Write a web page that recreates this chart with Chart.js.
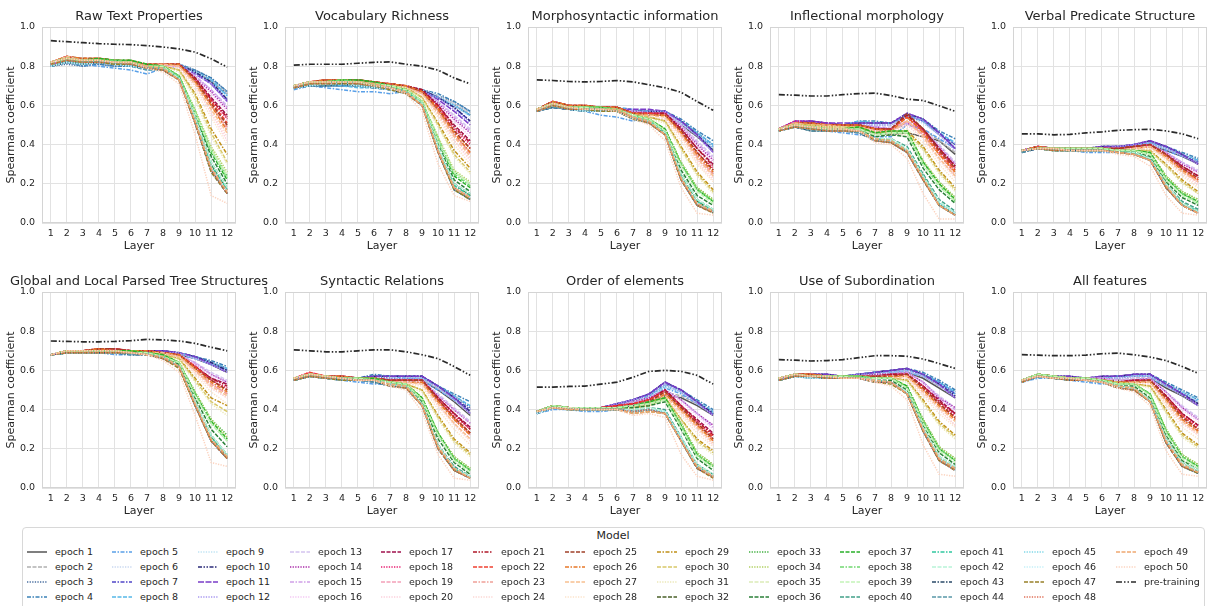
<!DOCTYPE html>
<html>
<head>
<meta charset="utf-8">
<script src="https://cdn.jsdelivr.net/npm/chart.js@4.4.0/dist/chart.umd.min.js"></script>
<style>
  body { margin: 0; background: #fff; }
  #page { position: relative; width: 1208px; height: 606px; overflow: hidden; background: #fff;
          font-family: 'DejaVu Sans', sans-serif; color: #262626; }
  #page canvas { position: absolute; }
  #legend { position: absolute; left: 22px; top: 527px; width: 1183px; height: 95px;
            border: 1px solid #d8d8d8; border-radius: 4px; box-sizing: border-box; }
  .leg-title { position: absolute; left: 591px; top: 529px; width: 44px; text-align: center;
               font-size: 11px; line-height: 14px; }
  .leg-text { position: absolute; font-size: 9.5px; line-height: 12px; white-space: nowrap; }
</style>
</head>
<body>
<div id="page"><div id="legend"></div><div class="leg-title">Model</div></div>
<script>
const layers = [1, 2, 3, 4, 5, 6, 7, 8, 9, 10, 11, 12];
const yTickValues = [0, 0.2, 0.4, 0.6, 0.8, 1.0];
const modelNames = [...Array(50)].map((_, i) => 'epoch ' + (i + 1)).concat(['pre-training']);
const panelTitles = ['Raw Text Properties', 'Vocabulary Richness', 'Morphosyntactic information',
  'Inflectional morphology', 'Verbal Predicate Structure', 'Global and Local Parsed Tree Structures',
  'Syntactic Relations', 'Order of elements', 'Use of Subordination', 'All features'];

// rows: epoch 1 .. epoch 50, then pre-training
const rawTextProps = [
  [.80,.82,.81,.82,.81,.81,.79,.80,.81,.77,.72,.66],
  [.81,.83,.82,.82,.82,.81,.80,.80,.81,.77,.73,.66],
  [.80,.81,.80,.81,.80,.80,.79,.79,.81,.78,.74,.67],
  [.80,.82,.80,.81,.80,.80,.79,.79,.81,.78,.74,.67],
  [.80,.82,.81,.80,.79,.78,.76,.79,.80,.77,.72,.65],
  [.81,.83,.82,.82,.81,.81,.79,.80,.81,.77,.73,.66],
  [.81,.83,.82,.83,.82,.81,.80,.80,.81,.77,.71,.63],
  [.80,.82,.81,.82,.81,.80,.78,.79,.81,.77,.73,.65],
  [.81,.83,.82,.82,.82,.81,.80,.80,.81,.77,.72,.64],
  [.81,.83,.82,.82,.82,.81,.80,.80,.81,.77,.72,.63],
  [.81,.83,.82,.83,.82,.81,.80,.80,.80,.76,.71,.62],
  [.81,.83,.82,.82,.82,.81,.80,.80,.81,.76,.71,.62],
  [.81,.84,.82,.83,.82,.82,.80,.81,.80,.75,.68,.60],
  [.82,.84,.83,.83,.82,.82,.80,.81,.80,.74,.67,.58],
  [.81,.84,.82,.83,.82,.81,.80,.80,.80,.75,.68,.59],
  [.81,.84,.82,.83,.82,.81,.80,.80,.80,.74,.66,.57],
  [.82,.84,.83,.83,.83,.82,.80,.81,.81,.74,.64,.55],
  [.82,.85,.83,.83,.83,.82,.80,.81,.81,.73,.63,.53],
  [.82,.84,.83,.83,.83,.82,.80,.81,.80,.72,.60,.48],
  [.82,.84,.83,.83,.82,.82,.80,.80,.79,.70,.56,.42],
  [.82,.85,.83,.83,.83,.82,.81,.81,.81,.74,.63,.54],
  [.82,.85,.83,.84,.83,.82,.81,.81,.81,.73,.62,.51],
  [.82,.84,.83,.83,.83,.82,.80,.81,.80,.72,.60,.49],
  [.82,.84,.83,.83,.82,.82,.80,.80,.79,.70,.57,.44],
  [.82,.85,.84,.84,.83,.82,.81,.81,.81,.73,.61,.50],
  [.82,.85,.84,.84,.83,.83,.81,.81,.81,.72,.60,.47],
  [.82,.85,.83,.83,.83,.82,.80,.81,.80,.71,.58,.46],
  [.82,.84,.83,.83,.82,.82,.80,.80,.78,.68,.54,.40],
  [.82,.84,.83,.83,.83,.82,.80,.80,.78,.66,.48,.35],
  [.82,.84,.83,.83,.83,.82,.80,.80,.78,.65,.46,.31],
  [.82,.84,.83,.83,.82,.82,.80,.80,.77,.63,.44,.30],
  [.81,.83,.81,.82,.81,.81,.79,.78,.74,.54,.30,.17],
  [.82,.84,.83,.84,.83,.83,.81,.80,.75,.57,.38,.24],
  [.82,.84,.83,.83,.83,.82,.80,.80,.75,.58,.39,.26],
  [.82,.84,.83,.83,.82,.82,.80,.80,.74,.57,.38,.24],
  [.81,.83,.82,.83,.82,.82,.80,.79,.74,.55,.34,.20],
  [.82,.84,.83,.84,.83,.83,.81,.80,.75,.56,.36,.22],
  [.82,.84,.83,.83,.83,.82,.80,.80,.75,.57,.37,.23],
  [.82,.84,.83,.83,.82,.82,.80,.80,.74,.56,.37,.24],
  [.81,.83,.82,.82,.82,.81,.79,.79,.74,.54,.31,.18],
  [.81,.83,.82,.82,.82,.81,.79,.79,.74,.53,.29,.17],
  [.81,.83,.82,.82,.82,.81,.79,.79,.74,.54,.31,.18],
  [.80,.82,.81,.82,.81,.80,.79,.78,.73,.51,.27,.15],
  [.80,.82,.81,.82,.81,.80,.78,.78,.73,.51,.26,.15],
  [.80,.82,.81,.82,.81,.80,.79,.78,.73,.52,.28,.16],
  [.80,.82,.81,.82,.81,.80,.79,.78,.73,.52,.28,.16],
  [.81,.83,.82,.82,.81,.81,.79,.78,.73,.51,.26,.15],
  [.81,.83,.82,.82,.82,.81,.79,.78,.73,.51,.27,.15],
  [.82,.84,.83,.83,.82,.82,.80,.79,.73,.52,.28,.16],
  [.82,.84,.83,.83,.82,.82,.79,.77,.71,.45,.14,.10],
  [.93,.925,.92,.915,.912,.91,.905,.898,.888,.872,.838,.795]
];

const vocabRichness = [
  [.69,.70,.70,.70,.70,.69,.69,.68,.67,.64,.60,.55],
  [.69,.71,.71,.71,.71,.70,.69,.69,.68,.65,.61,.56],
  [.69,.70,.70,.70,.70,.69,.68,.68,.68,.65,.62,.57],
  [.69,.70,.70,.70,.70,.69,.68,.68,.68,.66,.62,.57],
  [.68,.70,.69,.68,.67,.67,.66,.67,.67,.64,.60,.55],
  [.69,.71,.71,.71,.71,.70,.69,.69,.68,.65,.61,.56],
  [.70,.72,.72,.72,.72,.71,.70,.69,.68,.64,.59,.52],
  [.69,.70,.70,.70,.69,.69,.68,.68,.67,.64,.60,.55],
  [.69,.71,.71,.71,.71,.70,.69,.69,.68,.65,.60,.54],
  [.70,.72,.72,.72,.72,.71,.70,.69,.68,.64,.59,.52],
  [.70,.72,.72,.72,.72,.71,.70,.69,.67,.63,.57,.50],
  [.70,.71,.71,.72,.71,.70,.70,.69,.67,.64,.58,.51],
  [.70,.72,.72,.73,.72,.71,.70,.69,.67,.62,.55,.48],
  [.70,.72,.72,.73,.72,.71,.70,.69,.67,.61,.53,.46],
  [.70,.72,.72,.72,.72,.71,.70,.69,.67,.62,.54,.47],
  [.70,.72,.72,.72,.72,.71,.70,.69,.66,.60,.52,.44],
  [.70,.72,.72,.73,.73,.71,.71,.70,.68,.60,.50,.42],
  [.70,.72,.73,.73,.73,.72,.71,.70,.67,.59,.48,.40],
  [.70,.72,.72,.73,.73,.71,.70,.69,.66,.57,.45,.35],
  [.70,.72,.72,.72,.72,.71,.70,.69,.65,.55,.42,.32],
  [.70,.72,.73,.73,.73,.72,.71,.70,.68,.60,.49,.41],
  [.70,.72,.73,.73,.73,.72,.71,.70,.67,.59,.47,.38],
  [.70,.72,.72,.73,.72,.71,.70,.69,.66,.57,.45,.36],
  [.70,.72,.72,.72,.72,.71,.70,.69,.65,.55,.42,.33],
  [.70,.72,.73,.73,.73,.72,.71,.70,.67,.58,.47,.38],
  [.70,.72,.73,.73,.73,.72,.71,.70,.67,.58,.46,.36],
  [.70,.72,.72,.73,.72,.71,.70,.69,.66,.56,.44,.34],
  [.70,.72,.72,.72,.72,.71,.70,.69,.65,.54,.40,.30],
  [.70,.72,.72,.73,.72,.71,.70,.69,.64,.51,.37,.28],
  [.70,.72,.72,.73,.72,.71,.70,.69,.64,.50,.35,.26],
  [.70,.72,.72,.72,.72,.71,.70,.69,.63,.49,.34,.25],
  [.69,.71,.71,.72,.71,.70,.69,.67,.61,.39,.20,.14],
  [.70,.72,.72,.73,.73,.72,.70,.68,.62,.43,.26,.20],
  [.70,.72,.72,.73,.72,.71,.70,.68,.62,.44,.27,.21],
  [.70,.72,.72,.72,.72,.71,.70,.68,.62,.43,.26,.20],
  [.69,.71,.72,.72,.72,.71,.69,.67,.61,.40,.22,.16],
  [.70,.72,.72,.73,.73,.72,.70,.68,.62,.42,.24,.18],
  [.70,.72,.72,.73,.72,.71,.70,.68,.62,.43,.25,.19],
  [.70,.72,.72,.72,.72,.71,.70,.68,.62,.42,.26,.20],
  [.69,.71,.71,.72,.71,.70,.69,.67,.61,.39,.20,.15],
  [.69,.71,.71,.72,.71,.70,.69,.67,.61,.38,.19,.14],
  [.69,.71,.71,.72,.71,.70,.69,.67,.61,.39,.20,.15],
  [.69,.70,.70,.71,.70,.69,.68,.66,.60,.36,.17,.12],
  [.69,.70,.70,.71,.70,.69,.68,.66,.60,.36,.17,.12],
  [.69,.70,.71,.71,.70,.69,.68,.66,.60,.37,.18,.13],
  [.69,.70,.71,.71,.70,.69,.68,.66,.60,.37,.18,.13],
  [.69,.71,.71,.71,.71,.70,.68,.66,.60,.36,.17,.12],
  [.69,.71,.71,.72,.71,.70,.69,.66,.60,.36,.18,.13],
  [.70,.72,.72,.72,.72,.71,.69,.67,.60,.37,.18,.13],
  [.70,.72,.72,.72,.72,.70,.69,.66,.57,.30,.14,.11],
  [.805,.81,.81,.81,.815,.82,.822,.81,.80,.78,.74,.71]
];

const morphoSyntactic = [
  [.57,.60,.58,.58,.58,.58,.56,.56,.56,.50,.44,.37],
  [.58,.61,.58,.58,.58,.58,.56,.56,.56,.51,.45,.38],
  [.57,.59,.58,.57,.57,.57,.56,.56,.56,.52,.46,.40],
  [.57,.59,.58,.57,.57,.58,.57,.57,.57,.53,.47,.42],
  [.57,.59,.58,.57,.55,.54,.52,.55,.55,.51,.45,.39],
  [.58,.60,.58,.58,.58,.58,.56,.56,.56,.51,.45,.38],
  [.58,.61,.59,.59,.58,.58,.57,.57,.57,.52,.45,.37],
  [.57,.60,.58,.58,.57,.59,.58,.57,.57,.52,.46,.40],
  [.58,.60,.58,.58,.58,.58,.57,.56,.56,.51,.45,.38],
  [.58,.61,.59,.59,.58,.58,.57,.57,.57,.52,.45,.37],
  [.58,.61,.59,.59,.59,.58,.58,.58,.57,.52,.45,.36],
  [.58,.61,.59,.59,.58,.58,.57,.57,.57,.51,.44,.36],
  [.58,.61,.59,.59,.59,.58,.57,.56,.56,.50,.42,.34],
  [.58,.62,.60,.59,.59,.58,.57,.56,.56,.49,.40,.32],
  [.58,.61,.59,.59,.59,.58,.57,.56,.56,.50,.41,.33],
  [.58,.61,.59,.59,.58,.58,.56,.56,.55,.48,.39,.31],
  [.58,.62,.60,.59,.59,.59,.56,.56,.56,.48,.38,.30],
  [.58,.62,.60,.60,.59,.59,.56,.56,.56,.47,.36,.28],
  [.58,.62,.60,.59,.59,.58,.56,.55,.55,.46,.34,.25],
  [.58,.61,.59,.59,.59,.58,.55,.54,.53,.44,.32,.23],
  [.58,.62,.60,.60,.59,.59,.56,.56,.56,.48,.38,.29],
  [.58,.62,.60,.60,.59,.59,.56,.56,.55,.47,.36,.27],
  [.58,.62,.60,.59,.59,.58,.56,.55,.55,.46,.34,.25],
  [.58,.61,.59,.59,.59,.58,.55,.54,.53,.44,.31,.22],
  [.58,.62,.60,.60,.59,.59,.56,.55,.55,.47,.36,.27],
  [.58,.62,.60,.60,.59,.59,.56,.55,.55,.46,.35,.26],
  [.58,.61,.59,.59,.59,.58,.55,.55,.54,.45,.33,.24],
  [.58,.61,.59,.59,.58,.58,.55,.54,.52,.42,.30,.21],
  [.58,.61,.59,.59,.59,.58,.55,.54,.52,.39,.26,.17],
  [.58,.61,.59,.59,.59,.58,.55,.54,.52,.38,.25,.16],
  [.58,.61,.59,.59,.58,.58,.55,.53,.51,.37,.24,.15],
  [.57,.60,.58,.58,.58,.57,.54,.52,.46,.25,.11,.06],
  [.58,.61,.59,.59,.59,.58,.55,.53,.48,.31,.18,.12],
  [.58,.61,.59,.59,.59,.58,.55,.53,.48,.31,.18,.12],
  [.58,.61,.59,.59,.58,.58,.55,.53,.47,.30,.17,.11],
  [.57,.60,.58,.58,.58,.58,.54,.52,.46,.27,.14,.09],
  [.58,.61,.59,.59,.59,.58,.55,.53,.48,.30,.17,.11],
  [.58,.61,.59,.59,.59,.58,.55,.53,.47,.30,.17,.11],
  [.58,.61,.59,.59,.58,.58,.55,.53,.47,.29,.16,.10],
  [.57,.60,.58,.58,.58,.57,.54,.52,.46,.25,.12,.07],
  [.57,.60,.58,.58,.58,.57,.54,.52,.46,.24,.11,.06],
  [.57,.60,.58,.58,.58,.57,.54,.52,.46,.25,.12,.07],
  [.57,.59,.58,.57,.57,.57,.53,.51,.45,.22,.09,.055],
  [.57,.59,.58,.57,.57,.57,.53,.51,.45,.22,.09,.055],
  [.57,.60,.58,.57,.57,.57,.54,.51,.45,.23,.10,.06],
  [.57,.60,.58,.57,.57,.57,.54,.51,.45,.23,.10,.06],
  [.57,.60,.58,.58,.57,.57,.53,.51,.45,.22,.09,.05],
  [.57,.60,.58,.58,.58,.57,.54,.51,.45,.22,.09,.055],
  [.58,.61,.59,.58,.58,.58,.54,.52,.45,.23,.10,.06],
  [.58,.61,.59,.58,.58,.57,.53,.50,.42,.18,.05,.04],
  [.73,.727,.722,.72,.722,.727,.72,.705,.69,.667,.62,.575]
];

const inflectional = [
  [.47,.49,.48,.48,.48,.48,.46,.45,.46,.44,.42,.35],
  [.48,.50,.49,.49,.49,.49,.48,.48,.50,.48,.42,.36],
  [.47,.49,.48,.48,.48,.49,.50,.50,.54,.52,.45,.40],
  [.47,.49,.49,.49,.50,.52,.52,.51,.55,.53,.47,.43],
  [.47,.49,.48,.47,.46,.45,.44,.44,.50,.48,.43,.38],
  [.48,.50,.49,.49,.49,.50,.50,.50,.54,.51,.45,.39],
  [.48,.51,.52,.51,.50,.51,.51,.51,.55,.52,.46,.40],
  [.47,.50,.49,.49,.50,.52,.51,.51,.55,.52,.46,.41],
  [.48,.50,.49,.49,.49,.50,.50,.50,.54,.51,.45,.39],
  [.48,.51,.52,.51,.50,.51,.51,.51,.56,.53,.46,.38],
  [.48,.52,.52,.51,.51,.51,.51,.51,.56,.53,.46,.38],
  [.48,.51,.51,.50,.50,.50,.50,.50,.55,.52,.45,.37],
  [.48,.51,.51,.50,.50,.50,.49,.49,.52,.48,.40,.31],
  [.48,.52,.52,.51,.50,.50,.49,.48,.51,.47,.39,.30],
  [.48,.51,.51,.50,.50,.50,.49,.48,.51,.47,.39,.30],
  [.48,.51,.50,.50,.50,.49,.48,.48,.50,.46,.37,.28],
  [.48,.51,.51,.50,.50,.50,.48,.48,.55,.48,.38,.29],
  [.48,.52,.51,.50,.50,.50,.48,.48,.54,.47,.37,.28],
  [.48,.51,.50,.50,.49,.49,.47,.47,.52,.45,.35,.26],
  [.48,.51,.50,.49,.49,.49,.46,.46,.50,.43,.33,.24],
  [.48,.51,.51,.50,.50,.50,.48,.48,.55,.48,.38,.29],
  [.48,.51,.51,.50,.50,.50,.48,.48,.54,.47,.36,.27],
  [.48,.51,.50,.50,.49,.49,.47,.47,.52,.45,.35,.25],
  [.48,.51,.50,.49,.49,.49,.46,.46,.50,.43,.32,.23],
  [.48,.51,.51,.50,.50,.50,.48,.48,.56,.48,.37,.28],
  [.48,.51,.51,.50,.50,.50,.48,.47,.54,.46,.35,.26],
  [.48,.51,.50,.50,.49,.49,.47,.46,.52,.44,.33,.24],
  [.48,.50,.50,.49,.49,.48,.45,.45,.48,.41,.30,.21],
  [.48,.50,.50,.49,.49,.49,.46,.46,.47,.39,.27,.18],
  [.48,.50,.50,.49,.49,.49,.46,.46,.46,.38,.26,.17],
  [.48,.50,.49,.49,.49,.48,.45,.45,.45,.37,.25,.16],
  [.47,.49,.48,.47,.47,.47,.43,.42,.37,.24,.10,.05],
  [.48,.50,.49,.48,.48,.49,.46,.47,.47,.31,.21,.13],
  [.48,.50,.49,.48,.48,.49,.46,.47,.47,.32,.21,.13],
  [.48,.50,.49,.48,.48,.48,.45,.46,.46,.30,.20,.12],
  [.47,.49,.48,.48,.48,.48,.44,.45,.44,.28,.17,.10],
  [.48,.50,.49,.48,.48,.49,.46,.47,.47,.31,.20,.12],
  [.48,.50,.49,.48,.48,.48,.45,.46,.46,.30,.19,.11],
  [.48,.50,.49,.48,.48,.48,.45,.46,.46,.30,.19,.11],
  [.47,.49,.48,.47,.47,.47,.43,.43,.39,.25,.12,.06],
  [.47,.49,.48,.47,.47,.47,.43,.42,.37,.24,.10,.05],
  [.47,.49,.48,.47,.47,.47,.43,.43,.38,.24,.11,.05],
  [.47,.49,.47,.47,.47,.46,.42,.41,.36,.22,.09,.04],
  [.47,.49,.47,.47,.47,.46,.42,.41,.36,.22,.09,.04],
  [.47,.49,.48,.47,.47,.47,.42,.42,.37,.23,.10,.05],
  [.47,.49,.48,.47,.47,.47,.42,.42,.37,.23,.10,.05],
  [.47,.49,.48,.47,.47,.47,.42,.41,.36,.22,.09,.04],
  [.47,.49,.48,.47,.47,.47,.42,.41,.36,.22,.09,.04],
  [.48,.50,.49,.48,.48,.47,.43,.42,.37,.23,.09,.04],
  [.48,.50,.49,.48,.48,.47,.41,.40,.33,.15,.02,.02],
  [.655,.652,.648,.648,.655,.66,.663,.65,.632,.625,.598,.57]
];

const verbalPredicate = [
  [.37,.38,.38,.38,.38,.38,.38,.39,.40,.37,.34,.30],
  [.37,.38,.38,.38,.38,.38,.38,.39,.40,.38,.35,.31],
  [.37,.38,.38,.38,.37,.38,.38,.39,.41,.38,.35,.32],
  [.37,.38,.38,.38,.38,.39,.39,.40,.41,.39,.36,.33],
  [.36,.38,.37,.37,.36,.36,.36,.38,.40,.37,.34,.31],
  [.37,.38,.38,.38,.38,.38,.38,.39,.40,.38,.35,.31],
  [.37,.39,.38,.38,.38,.39,.39,.40,.42,.39,.35,.31],
  [.37,.38,.38,.38,.37,.38,.38,.39,.41,.38,.35,.32],
  [.37,.38,.38,.38,.38,.38,.38,.39,.40,.38,.35,.31],
  [.37,.39,.38,.38,.38,.39,.39,.40,.42,.39,.35,.30],
  [.37,.39,.38,.38,.38,.39,.39,.40,.42,.39,.35,.30],
  [.37,.39,.38,.38,.38,.38,.39,.40,.41,.38,.34,.30],
  [.37,.39,.38,.38,.38,.38,.38,.39,.40,.36,.31,.27],
  [.37,.39,.38,.38,.38,.38,.38,.39,.40,.36,.30,.26],
  [.37,.39,.38,.38,.38,.38,.38,.39,.40,.36,.31,.26],
  [.37,.39,.38,.38,.38,.38,.38,.38,.39,.35,.29,.25],
  [.37,.39,.38,.38,.38,.38,.38,.39,.40,.35,.29,.24],
  [.37,.39,.38,.38,.38,.38,.38,.39,.40,.35,.28,.23],
  [.37,.39,.38,.38,.38,.38,.37,.38,.39,.34,.27,.21],
  [.37,.38,.38,.38,.38,.38,.37,.38,.38,.33,.26,.20],
  [.37,.39,.38,.38,.38,.38,.38,.39,.40,.35,.29,.24],
  [.37,.39,.38,.38,.38,.38,.38,.39,.40,.35,.28,.22],
  [.37,.39,.38,.38,.38,.38,.37,.38,.39,.34,.27,.21],
  [.37,.38,.38,.38,.38,.38,.37,.38,.38,.33,.25,.19],
  [.37,.39,.38,.38,.38,.38,.38,.39,.40,.35,.28,.23],
  [.37,.39,.38,.38,.38,.38,.37,.38,.39,.34,.27,.22],
  [.37,.38,.38,.38,.38,.38,.37,.38,.39,.33,.26,.21],
  [.37,.38,.38,.38,.38,.37,.37,.37,.38,.32,.24,.18],
  [.37,.38,.38,.38,.38,.38,.37,.37,.37,.30,.22,.16],
  [.37,.38,.38,.38,.38,.38,.37,.37,.37,.29,.21,.15],
  [.37,.38,.38,.38,.37,.37,.37,.37,.36,.29,.20,.15],
  [.37,.38,.37,.37,.37,.37,.36,.36,.33,.20,.10,.06],
  [.37,.38,.38,.38,.38,.38,.37,.37,.36,.24,.16,.12],
  [.37,.38,.38,.38,.38,.38,.37,.37,.36,.24,.16,.12],
  [.37,.38,.38,.38,.38,.38,.37,.37,.35,.23,.15,.11],
  [.37,.38,.37,.37,.37,.37,.36,.36,.34,.21,.13,.09],
  [.37,.38,.38,.38,.38,.38,.37,.37,.36,.23,.15,.11],
  [.37,.38,.38,.38,.38,.38,.37,.37,.35,.23,.15,.10],
  [.37,.38,.38,.38,.38,.38,.37,.37,.35,.22,.14,.10],
  [.37,.38,.37,.37,.37,.37,.36,.36,.33,.20,.11,.07],
  [.37,.38,.37,.37,.37,.37,.36,.36,.33,.19,.10,.06],
  [.37,.38,.37,.37,.37,.37,.36,.36,.33,.20,.10,.06],
  [.36,.38,.37,.37,.37,.37,.36,.35,.32,.18,.09,.05],
  [.36,.38,.37,.37,.37,.37,.36,.35,.32,.18,.09,.05],
  [.37,.38,.37,.37,.37,.37,.36,.35,.32,.19,.09,.055],
  [.37,.38,.37,.37,.37,.37,.36,.35,.32,.19,.09,.055],
  [.37,.38,.37,.37,.37,.37,.36,.35,.32,.18,.09,.05],
  [.37,.38,.37,.37,.37,.37,.36,.35,.32,.18,.09,.05],
  [.37,.38,.38,.37,.37,.37,.36,.35,.32,.19,.09,.05],
  [.37,.38,.38,.37,.37,.37,.35,.34,.29,.14,.05,.04],
  [.455,.455,.45,.452,.46,.465,.473,.476,.478,.47,.455,.43]
];

const parsedTree = [
  [.68,.69,.69,.69,.69,.69,.69,.69,.68,.66,.63,.59],
  [.68,.69,.69,.69,.69,.69,.69,.69,.69,.66,.64,.60],
  [.68,.69,.69,.69,.69,.69,.69,.69,.69,.67,.64,.61],
  [.68,.69,.69,.69,.69,.69,.69,.69,.69,.67,.65,.62],
  [.68,.69,.69,.69,.68,.68,.68,.68,.68,.66,.63,.60],
  [.68,.69,.69,.69,.69,.69,.69,.69,.69,.66,.64,.60],
  [.68,.70,.70,.70,.70,.70,.70,.70,.69,.67,.64,.60],
  [.68,.69,.69,.69,.69,.69,.69,.69,.69,.67,.64,.61],
  [.68,.69,.69,.69,.69,.69,.69,.69,.69,.66,.64,.60],
  [.68,.70,.70,.70,.70,.70,.70,.70,.69,.67,.64,.60],
  [.68,.70,.70,.70,.70,.70,.70,.70,.69,.67,.63,.59],
  [.68,.70,.70,.70,.70,.70,.70,.69,.69,.66,.63,.59],
  [.68,.70,.70,.70,.70,.70,.70,.69,.68,.64,.59,.55],
  [.68,.70,.70,.70,.70,.70,.70,.69,.68,.63,.58,.54],
  [.68,.70,.70,.70,.70,.70,.70,.69,.68,.64,.58,.54],
  [.68,.70,.70,.70,.70,.70,.69,.69,.68,.63,.57,.53],
  [.68,.70,.70,.71,.71,.70,.70,.69,.68,.62,.56,.53],
  [.68,.70,.70,.71,.71,.70,.70,.69,.68,.62,.55,.51],
  [.68,.70,.70,.70,.70,.70,.69,.69,.67,.60,.53,.48],
  [.68,.70,.70,.70,.70,.70,.69,.68,.67,.59,.51,.46],
  [.68,.70,.70,.71,.71,.70,.70,.69,.68,.62,.56,.52],
  [.68,.70,.70,.71,.71,.70,.70,.69,.68,.62,.55,.50],
  [.68,.70,.70,.70,.70,.70,.69,.69,.67,.60,.53,.48],
  [.68,.70,.70,.70,.70,.70,.69,.68,.67,.59,.51,.46],
  [.68,.70,.70,.71,.71,.70,.70,.69,.68,.61,.55,.50],
  [.68,.70,.70,.71,.70,.70,.70,.69,.68,.61,.54,.49],
  [.68,.70,.70,.70,.70,.70,.69,.69,.67,.60,.52,.47],
  [.68,.70,.70,.70,.70,.69,.69,.68,.66,.58,.49,.43],
  [.68,.70,.70,.70,.70,.70,.69,.68,.66,.56,.46,.42],
  [.68,.70,.70,.70,.70,.70,.69,.68,.66,.55,.44,.39],
  [.68,.69,.70,.70,.70,.69,.69,.68,.65,.54,.43,.37],
  [.68,.69,.69,.69,.69,.69,.68,.67,.62,.44,.26,.16],
  [.68,.70,.70,.70,.70,.70,.69,.68,.64,.49,.35,.27],
  [.68,.70,.70,.70,.70,.70,.69,.68,.64,.49,.35,.26],
  [.68,.70,.70,.70,.70,.69,.69,.67,.64,.48,.34,.25],
  [.68,.69,.69,.70,.70,.69,.68,.67,.63,.46,.30,.21],
  [.68,.70,.70,.70,.70,.70,.69,.68,.64,.48,.34,.25],
  [.68,.70,.70,.70,.70,.69,.69,.67,.64,.48,.33,.24],
  [.68,.70,.70,.70,.70,.69,.69,.67,.64,.47,.33,.24],
  [.68,.69,.69,.69,.69,.69,.68,.67,.62,.44,.27,.17],
  [.68,.69,.69,.69,.69,.69,.68,.67,.62,.43,.26,.16],
  [.68,.69,.69,.69,.69,.69,.68,.67,.62,.44,.27,.17],
  [.68,.69,.69,.69,.69,.68,.68,.66,.62,.42,.24,.15],
  [.68,.69,.69,.69,.69,.68,.68,.66,.62,.42,.24,.15],
  [.68,.69,.69,.69,.69,.69,.68,.66,.62,.43,.25,.16],
  [.68,.69,.69,.69,.69,.69,.68,.66,.62,.43,.25,.16],
  [.68,.69,.69,.69,.69,.69,.68,.66,.61,.42,.24,.15],
  [.68,.69,.69,.69,.69,.69,.68,.66,.62,.42,.24,.15],
  [.68,.70,.70,.70,.70,.69,.68,.67,.62,.43,.25,.16],
  [.68,.70,.70,.70,.70,.69,.68,.65,.59,.37,.13,.11],
  [.75,.748,.746,.746,.748,.752,.758,.756,.75,.738,.718,.70]
];

const syntacticRel = [
  [.55,.57,.56,.56,.55,.56,.55,.55,.55,.50,.44,.37],
  [.55,.57,.56,.56,.56,.56,.55,.55,.55,.51,.45,.38],
  [.55,.57,.56,.56,.55,.57,.56,.56,.56,.52,.47,.41],
  [.55,.57,.56,.56,.56,.58,.57,.57,.57,.52,.48,.44],
  [.55,.57,.56,.55,.54,.53,.53,.54,.55,.50,.45,.39],
  [.55,.57,.56,.56,.56,.56,.55,.55,.56,.51,.45,.38],
  [.56,.58,.57,.57,.56,.57,.57,.57,.57,.52,.46,.40],
  [.55,.57,.56,.56,.55,.57,.57,.56,.56,.52,.47,.42],
  [.55,.57,.56,.56,.56,.56,.55,.55,.56,.51,.45,.38],
  [.56,.58,.57,.57,.56,.57,.57,.57,.57,.52,.46,.39],
  [.56,.58,.57,.57,.56,.57,.57,.57,.57,.52,.46,.38],
  [.56,.58,.57,.57,.56,.56,.56,.56,.56,.51,.45,.38],
  [.56,.58,.57,.57,.56,.56,.55,.55,.55,.48,.41,.34],
  [.56,.58,.57,.57,.56,.56,.55,.55,.55,.47,.40,.33],
  [.56,.58,.57,.57,.56,.56,.55,.55,.55,.47,.40,.33],
  [.56,.58,.57,.56,.56,.56,.55,.54,.54,.46,.38,.31],
  [.56,.58,.57,.57,.56,.56,.55,.55,.55,.46,.38,.31],
  [.56,.59,.57,.57,.56,.56,.55,.55,.55,.45,.37,.30],
  [.56,.58,.57,.57,.56,.56,.54,.54,.54,.44,.35,.27],
  [.56,.58,.57,.56,.56,.55,.54,.53,.53,.42,.33,.25],
  [.56,.58,.57,.57,.56,.56,.55,.55,.55,.46,.38,.30],
  [.56,.59,.57,.57,.56,.56,.55,.55,.55,.45,.36,.28],
  [.56,.58,.57,.57,.56,.56,.54,.54,.54,.44,.35,.27],
  [.56,.58,.57,.56,.56,.55,.54,.53,.53,.42,.32,.24],
  [.56,.58,.57,.57,.56,.56,.55,.55,.55,.45,.36,.28],
  [.56,.58,.57,.57,.56,.56,.54,.54,.54,.44,.35,.27],
  [.56,.58,.57,.56,.56,.56,.54,.54,.53,.43,.33,.25],
  [.56,.58,.57,.56,.56,.55,.54,.53,.52,.40,.30,.22],
  [.56,.58,.57,.56,.56,.55,.54,.53,.50,.37,.25,.18],
  [.56,.58,.57,.56,.56,.55,.54,.53,.50,.36,.24,.17],
  [.56,.58,.57,.56,.56,.55,.54,.52,.49,.35,.23,.16],
  [.55,.57,.56,.56,.55,.55,.53,.52,.43,.22,.10,.055],
  [.56,.58,.57,.56,.56,.56,.54,.53,.46,.28,.16,.10],
  [.56,.58,.57,.56,.56,.56,.54,.53,.46,.28,.16,.10],
  [.56,.58,.57,.56,.56,.55,.54,.53,.45,.27,.15,.09],
  [.55,.57,.56,.56,.55,.55,.53,.52,.44,.25,.13,.07],
  [.56,.58,.57,.56,.56,.56,.54,.53,.46,.28,.15,.09],
  [.56,.58,.57,.56,.56,.55,.54,.53,.45,.27,.15,.09],
  [.56,.58,.57,.56,.56,.55,.54,.53,.45,.27,.14,.08],
  [.55,.57,.56,.56,.55,.55,.53,.52,.43,.22,.11,.06],
  [.55,.57,.56,.56,.55,.55,.53,.52,.42,.21,.10,.055],
  [.55,.57,.56,.56,.55,.55,.53,.52,.43,.22,.10,.06],
  [.55,.57,.56,.55,.55,.54,.52,.51,.42,.20,.09,.05],
  [.55,.57,.56,.55,.55,.54,.52,.51,.42,.20,.09,.05],
  [.55,.57,.56,.55,.55,.55,.53,.51,.42,.21,.10,.055],
  [.55,.57,.56,.55,.55,.55,.53,.51,.42,.21,.10,.055],
  [.55,.57,.56,.55,.55,.55,.52,.51,.42,.20,.09,.05],
  [.55,.57,.56,.56,.55,.55,.52,.51,.42,.20,.09,.05],
  [.56,.58,.57,.56,.55,.55,.53,.52,.42,.21,.10,.05],
  [.56,.58,.57,.56,.55,.55,.52,.50,.39,.17,.05,.04],
  [.705,.70,.695,.695,.70,.705,.705,.695,.68,.66,.62,.575]
];

const orderElements = [
  [.39,.41,.41,.40,.40,.41,.42,.43,.47,.46,.42,.37],
  [.39,.41,.41,.40,.40,.41,.43,.44,.49,.47,.43,.38],
  [.38,.41,.40,.40,.40,.42,.44,.46,.52,.49,.44,.39],
  [.38,.41,.40,.40,.40,.42,.45,.47,.53,.50,.45,.40],
  [.38,.40,.40,.39,.39,.40,.42,.45,.51,.48,.43,.38],
  [.39,.41,.41,.40,.40,.42,.44,.46,.52,.49,.44,.39],
  [.39,.42,.41,.41,.41,.43,.45,.48,.54,.50,.44,.38],
  [.38,.41,.40,.40,.40,.42,.45,.47,.52,.49,.44,.39],
  [.39,.41,.41,.40,.40,.42,.44,.46,.52,.49,.44,.38],
  [.39,.42,.41,.41,.41,.43,.45,.48,.54,.50,.44,.38],
  [.39,.42,.41,.41,.41,.43,.45,.48,.54,.50,.44,.37],
  [.39,.42,.41,.41,.41,.43,.45,.47,.53,.49,.43,.37],
  [.39,.42,.41,.41,.41,.42,.44,.46,.50,.45,.38,.32],
  [.39,.42,.41,.41,.41,.42,.44,.46,.50,.45,.38,.32],
  [.39,.42,.41,.41,.41,.42,.44,.45,.50,.45,.38,.31],
  [.39,.42,.41,.41,.41,.42,.43,.45,.49,.44,.37,.30],
  [.39,.42,.41,.41,.41,.42,.43,.45,.50,.42,.35,.28],
  [.39,.42,.41,.41,.41,.42,.43,.45,.50,.42,.34,.27],
  [.39,.42,.41,.41,.41,.41,.42,.44,.48,.40,.32,.25],
  [.39,.42,.41,.41,.40,.41,.42,.43,.46,.38,.30,.22],
  [.39,.42,.41,.41,.41,.42,.43,.45,.50,.42,.34,.27],
  [.39,.42,.41,.41,.41,.42,.43,.45,.49,.41,.33,.26],
  [.39,.42,.41,.41,.41,.41,.42,.44,.48,.40,.32,.24],
  [.39,.42,.41,.41,.40,.41,.42,.43,.46,.38,.30,.22],
  [.39,.42,.41,.41,.41,.41,.42,.44,.49,.41,.33,.25],
  [.39,.42,.41,.41,.41,.41,.41,.43,.48,.40,.32,.24],
  [.39,.42,.41,.41,.41,.41,.41,.43,.47,.39,.31,.23],
  [.39,.41,.41,.41,.40,.41,.40,.42,.45,.37,.28,.21],
  [.39,.42,.41,.41,.41,.41,.41,.42,.46,.35,.25,.19],
  [.39,.42,.41,.41,.41,.41,.41,.42,.46,.35,.24,.18],
  [.39,.41,.41,.41,.40,.41,.41,.42,.45,.34,.23,.17],
  [.39,.41,.40,.40,.40,.40,.39,.40,.38,.25,.11,.06],
  [.39,.42,.41,.41,.41,.41,.42,.44,.46,.33,.18,.12],
  [.39,.42,.41,.41,.41,.41,.42,.44,.46,.33,.18,.12],
  [.39,.42,.41,.41,.41,.41,.42,.43,.45,.32,.17,.11],
  [.39,.41,.41,.40,.40,.41,.41,.42,.44,.30,.15,.09],
  [.39,.42,.41,.41,.41,.41,.42,.44,.46,.32,.17,.11],
  [.39,.42,.41,.41,.41,.41,.42,.43,.45,.32,.17,.11],
  [.39,.42,.41,.41,.41,.41,.42,.43,.45,.31,.16,.10],
  [.39,.41,.40,.40,.40,.40,.40,.41,.40,.26,.12,.07],
  [.39,.41,.40,.40,.40,.40,.39,.40,.39,.25,.11,.06],
  [.39,.41,.40,.40,.40,.40,.40,.41,.39,.26,.12,.07],
  [.38,.41,.40,.40,.40,.40,.39,.40,.38,.24,.10,.055],
  [.38,.41,.40,.40,.40,.40,.39,.40,.38,.24,.10,.055],
  [.38,.41,.40,.40,.40,.40,.39,.40,.39,.25,.11,.06],
  [.38,.41,.40,.40,.40,.40,.39,.40,.39,.25,.11,.06],
  [.39,.41,.40,.40,.40,.40,.38,.39,.38,.24,.10,.05],
  [.39,.41,.40,.40,.40,.40,.39,.40,.38,.24,.10,.055],
  [.39,.41,.40,.40,.40,.40,.38,.39,.38,.24,.11,.06],
  [.39,.41,.41,.40,.40,.40,.37,.38,.36,.17,.06,.04],
  [.515,.515,.518,.52,.53,.54,.565,.595,.60,.595,.575,.53]
];

const subordination = [
  [.55,.57,.57,.57,.57,.57,.57,.58,.59,.56,.51,.46],
  [.55,.57,.57,.57,.57,.57,.58,.58,.59,.57,.52,.47],
  [.55,.57,.57,.57,.57,.57,.58,.59,.60,.58,.54,.49],
  [.55,.57,.57,.57,.57,.58,.59,.60,.61,.59,.55,.50],
  [.55,.57,.57,.56,.56,.56,.57,.58,.59,.57,.53,.48],
  [.55,.57,.57,.57,.57,.57,.58,.59,.60,.57,.53,.47],
  [.56,.58,.58,.58,.57,.58,.59,.60,.61,.58,.54,.48],
  [.55,.57,.57,.57,.57,.58,.59,.59,.60,.58,.54,.49],
  [.55,.57,.57,.57,.57,.57,.58,.59,.60,.57,.53,.47],
  [.56,.58,.58,.58,.57,.58,.59,.60,.61,.58,.53,.47],
  [.56,.58,.58,.58,.57,.58,.59,.60,.61,.58,.53,.46],
  [.56,.58,.58,.57,.57,.58,.58,.59,.60,.57,.52,.46],
  [.56,.58,.58,.57,.57,.57,.58,.58,.59,.54,.47,.41],
  [.56,.58,.58,.57,.57,.57,.58,.58,.59,.54,.46,.41],
  [.56,.58,.58,.57,.57,.57,.57,.58,.59,.54,.46,.40],
  [.56,.58,.58,.57,.57,.57,.57,.58,.58,.53,.45,.39],
  [.56,.58,.58,.57,.57,.57,.57,.58,.58,.52,.45,.38],
  [.56,.58,.58,.57,.57,.57,.57,.58,.58,.52,.44,.37],
  [.56,.58,.58,.57,.57,.57,.57,.57,.57,.50,.42,.35],
  [.56,.58,.57,.57,.57,.56,.56,.56,.56,.48,.40,.32],
  [.56,.58,.58,.57,.57,.57,.57,.58,.58,.52,.44,.38],
  [.56,.58,.58,.57,.57,.57,.57,.57,.58,.51,.43,.36],
  [.56,.58,.58,.57,.57,.57,.57,.57,.57,.50,.42,.35],
  [.56,.58,.57,.57,.57,.56,.56,.56,.56,.48,.40,.32],
  [.56,.58,.58,.57,.57,.57,.57,.57,.58,.51,.43,.36],
  [.56,.58,.58,.57,.57,.57,.56,.57,.57,.50,.42,.35],
  [.56,.58,.57,.57,.57,.57,.56,.56,.57,.49,.41,.34],
  [.56,.58,.57,.57,.57,.56,.56,.56,.55,.47,.38,.31],
  [.56,.58,.57,.57,.57,.57,.56,.56,.55,.45,.34,.27],
  [.56,.58,.57,.57,.57,.57,.56,.56,.55,.44,.33,.26],
  [.56,.58,.57,.57,.57,.56,.56,.56,.54,.43,.32,.25],
  [.55,.57,.57,.56,.56,.56,.55,.54,.48,.30,.15,.10],
  [.56,.58,.57,.57,.57,.57,.56,.56,.52,.35,.21,.15],
  [.56,.58,.57,.57,.57,.57,.56,.56,.52,.35,.21,.15],
  [.56,.58,.57,.57,.57,.57,.56,.56,.51,.34,.20,.14],
  [.55,.57,.57,.56,.56,.56,.55,.55,.50,.32,.18,.12],
  [.56,.58,.57,.57,.57,.57,.56,.56,.52,.34,.20,.14],
  [.56,.58,.57,.57,.57,.57,.56,.56,.51,.34,.20,.14],
  [.56,.58,.57,.57,.57,.56,.56,.56,.51,.33,.19,.13],
  [.55,.57,.57,.56,.56,.56,.55,.54,.49,.31,.16,.11],
  [.55,.57,.57,.56,.56,.56,.55,.54,.48,.30,.15,.10],
  [.55,.57,.57,.56,.56,.56,.55,.54,.49,.31,.16,.11],
  [.55,.57,.56,.56,.56,.56,.54,.54,.48,.29,.14,.09],
  [.55,.57,.56,.56,.56,.56,.54,.54,.48,.29,.14,.09],
  [.55,.57,.56,.56,.56,.56,.55,.54,.48,.30,.15,.10],
  [.55,.57,.56,.56,.56,.56,.55,.54,.48,.30,.15,.10],
  [.55,.57,.57,.56,.56,.56,.54,.53,.48,.29,.14,.09],
  [.55,.57,.57,.56,.56,.56,.54,.54,.48,.29,.14,.09],
  [.56,.58,.57,.57,.56,.56,.55,.54,.48,.30,.15,.10],
  [.56,.58,.57,.57,.56,.56,.54,.52,.45,.22,.07,.06],
  [.655,.652,.648,.65,.655,.665,.675,.675,.672,.658,.635,.61]
];

const allFeatures = [
  [.54,.57,.56,.56,.55,.55,.55,.55,.56,.51,.47,.42],
  [.54,.57,.56,.56,.55,.55,.55,.56,.57,.52,.48,.43],
  [.54,.57,.56,.56,.55,.56,.56,.57,.57,.53,.49,.45],
  [.54,.57,.56,.56,.55,.56,.57,.57,.58,.54,.50,.46],
  [.54,.56,.56,.55,.54,.53,.54,.55,.56,.52,.48,.44],
  [.55,.57,.56,.56,.55,.56,.56,.57,.57,.53,.49,.44],
  [.55,.58,.57,.57,.56,.57,.57,.58,.58,.53,.49,.43],
  [.54,.57,.56,.56,.55,.56,.57,.57,.57,.53,.49,.45],
  [.55,.57,.56,.56,.55,.56,.56,.57,.57,.53,.49,.44],
  [.55,.58,.57,.57,.56,.57,.57,.58,.58,.53,.48,.43],
  [.55,.58,.57,.57,.56,.57,.57,.58,.58,.53,.48,.42],
  [.55,.58,.57,.56,.56,.56,.56,.57,.57,.52,.47,.42],
  [.55,.58,.57,.56,.56,.56,.55,.56,.56,.49,.42,.36],
  [.55,.58,.57,.56,.56,.56,.55,.55,.56,.49,.41,.35],
  [.55,.58,.57,.56,.56,.56,.55,.55,.56,.49,.41,.35],
  [.55,.58,.57,.56,.56,.55,.55,.55,.55,.48,.40,.34],
  [.55,.58,.57,.56,.56,.55,.54,.55,.55,.47,.38,.32],
  [.55,.58,.57,.56,.56,.55,.54,.55,.55,.46,.37,.31],
  [.55,.58,.57,.56,.56,.55,.54,.54,.54,.45,.35,.29],
  [.55,.58,.57,.56,.55,.55,.53,.53,.53,.43,.33,.27],
  [.55,.58,.57,.56,.56,.55,.54,.55,.55,.47,.38,.32],
  [.55,.58,.57,.56,.56,.55,.54,.54,.55,.46,.37,.30],
  [.55,.58,.57,.56,.56,.55,.54,.54,.54,.45,.35,.29],
  [.55,.58,.57,.56,.55,.55,.53,.53,.53,.43,.33,.27],
  [.55,.58,.57,.56,.56,.55,.54,.54,.55,.46,.36,.30],
  [.55,.58,.57,.56,.56,.55,.54,.54,.54,.45,.35,.29],
  [.55,.58,.57,.56,.56,.55,.53,.54,.54,.44,.34,.28],
  [.55,.57,.57,.56,.55,.55,.53,.53,.52,.42,.31,.25],
  [.55,.58,.57,.56,.56,.55,.54,.53,.52,.40,.28,.22],
  [.55,.58,.57,.56,.56,.55,.54,.53,.52,.39,.27,.21],
  [.55,.57,.57,.56,.55,.55,.53,.53,.51,.38,.26,.20],
  [.54,.57,.56,.55,.55,.54,.52,.51,.45,.25,.13,.085],
  [.55,.58,.57,.56,.56,.55,.53,.53,.48,.30,.17,.12],
  [.55,.58,.57,.56,.56,.55,.53,.53,.48,.30,.17,.12],
  [.55,.58,.57,.56,.56,.55,.53,.53,.48,.29,.16,.11],
  [.54,.57,.56,.56,.55,.55,.52,.52,.46,.27,.14,.10],
  [.55,.58,.57,.56,.56,.55,.53,.53,.48,.29,.16,.11],
  [.55,.58,.57,.56,.56,.55,.53,.53,.48,.29,.16,.11],
  [.55,.58,.57,.56,.56,.55,.53,.53,.47,.28,.15,.10],
  [.54,.57,.56,.55,.55,.54,.52,.51,.45,.25,.13,.09],
  [.54,.57,.56,.55,.55,.54,.52,.51,.44,.24,.12,.08],
  [.54,.57,.56,.55,.55,.54,.52,.51,.45,.25,.13,.09],
  [.54,.57,.56,.55,.55,.54,.51,.50,.44,.23,.11,.075],
  [.54,.57,.56,.55,.55,.54,.51,.50,.44,.23,.11,.075],
  [.54,.57,.56,.55,.55,.54,.52,.50,.44,.24,.12,.08],
  [.54,.57,.56,.55,.55,.54,.52,.50,.44,.24,.12,.08],
  [.54,.57,.56,.55,.55,.54,.51,.50,.44,.23,.11,.075],
  [.54,.57,.56,.55,.55,.54,.51,.50,.44,.23,.11,.08],
  [.55,.57,.56,.56,.55,.54,.52,.51,.44,.24,.12,.08],
  [.55,.57,.56,.56,.55,.54,.51,.49,.42,.19,.07,.06],
  [.68,.678,.675,.675,.678,.685,.688,.68,.668,.65,.62,.585]
];

const panels = [rawTextProps, vocabRichness, morphoSyntactic, inflectional, verbalPredicate,
  parsedTree, syntacticRel, orderElements, subordination, allFeatures];

// line styles, one per model
const lineColors = [
  '#555555', '#b0b0b0', '#4a6fa0', '#3b82b8', '#5aa0e8', '#c8d8f0', '#5046c8', '#56b8e8',
  '#c0e4f4', '#2a2a78', '#7a3cc8', '#a898f0', '#d4c4f0', '#a828a8', '#d0a0e8', '#f4c8f4',
  '#a0104c', '#e81c70', '#f4a0b8', '#fcd0dc', '#b01828', '#f04030', '#f0a098', '#fcd8d4',
  '#a04028', '#e87828', '#f8c090', '#fce4cc', '#c09018', '#d8c868', '#ece8b8', '#4a6028',
  '#40b040', '#b0d060', '#dcecb8', '#2a8038', '#28b028', '#70d870', '#c4f4b8', '#40a088',
  '#30c8a0', '#b8f4d8', '#2a4a68', '#5898a8', '#80d8e8', '#c4f0f8', '#988028', '#e07058',
  '#f0a870', '#fcd4c0', '#2a2a2a'
];
const S = [], D = [4, 1.5], O = [1.3, 1.3], DD = [4, 1.5, 1.5, 1.5], D3 = [4, 1.5, 1.5, 1.5, 1.5, 1.5], DL = [6, 1.5];
const PRE = [6, 2, 1.5, 2, 1.5, 2];
const lineDashes = [S, D, O, DD, DD, O, DD, D, O, D3, DL, O, D, O, DD, O, D, O, D, O, D3, D, DD, O, D,
  DD, D, O, DD, D, O, D, O, O, D, D, D, DD, D, D, DD, D, DD, D, O, O, D, O, D, O, PRE];

Chart.defaults.font.family = "'DejaVu Sans', sans-serif";
Chart.defaults.color = '#262626';

// light frame round the plot area, like the seaborn spines
const frame = {
  id: 'frame',
  beforeDatasetsDraw(chart) {
    const { ctx, chartArea: a } = chart;
    ctx.save();
    ctx.strokeStyle = '#d4d4d4';
    ctx.lineWidth = 1;
    ctx.strokeRect(a.left + 0.5, a.top + 0.5, a.width - 1, a.height - 1);
    ctx.restore();
  }
};

// panel title centred over the plot area (long titles may overflow it, as in matplotlib)
const panelTitle = {
  id: 'panelTitle',
  afterDraw(chart, args, opts) {
    const { ctx, chartArea: a } = chart;
    ctx.save();
    ctx.font = "13px 'DejaVu Sans', sans-serif";
    ctx.fillStyle = '#262626';
    ctx.textAlign = 'center';
    ctx.textBaseline = 'middle';
    ctx.fillText(opts.text, (a.left + a.right) / 2, a.top - 10);
    ctx.restore();
  }
};

const page = document.getElementById('page');
const plotLefts = [42, 285, 528, 770, 1013];
const plotTops = [27, 292];

panels.forEach((rows, p) => {
  const cv = document.createElement('canvas');
  cv.width = 278; cv.height = 257;
  cv.style.width = '278px'; cv.style.height = '257px';
  cv.style.left = (plotLefts[p % 5] - 42) + 'px';
  cv.style.top = (plotTops[Math.floor(p / 5)] - 27) + 'px';
  page.appendChild(cv);

  new Chart(cv, {
    type: 'line',
    data: {
      datasets: rows.map((r, i) => ({
        label: modelNames[i],
        data: r.map((v, j) => ({ x: layers[j], y: v })),
        borderColor: lineColors[i],
        borderDash: lineDashes[i],
        borderWidth: i === 50 ? 1.7 : 1.5,
        pointRadius: 0,
        tension: 0,
        fill: false,
        order: -i
      }))
    },
    options: {
      responsive: false,
      animation: false,
      events: [],
      layout: { padding: { top: 27, right: 42 } },
      plugins: {
        legend: { display: false },
        tooltip: { enabled: false },
        title: { display: false },
        panelTitle: { text: panelTitles[p] }
      },
      scales: {
        x: {
          type: 'linear', min: 0.45, max: 12.55,
          afterBuildTicks: ax => { ax.ticks = layers.map(v => ({ value: v })); },
          afterFit: ax => { ax.height = 34; },
          ticks: { autoSkip: false, maxRotation: 0, padding: 5, font: { size: 9.5 }, callback: v => String(v) },
          grid: { color: '#e2e2e2', drawTicks: false },
          border: { display: false },
          title: { display: true, text: 'Layer', font: { size: 11 }, padding: { top: 0, bottom: 4 } }
        },
        y: {
          min: 0, max: 1,
          afterBuildTicks: ax => { ax.ticks = yTickValues.map(v => ({ value: v })); },
          afterFit: ax => { ax.width = 42; },
          ticks: { padding: 7, font: { size: 9.5 }, callback: v => Number(v).toFixed(1) },
          grid: { color: '#e2e2e2', drawTicks: false },
          border: { display: false },
          title: { display: true, text: 'Spearman coefficient', font: { size: 11 }, padding: { top: 5, bottom: 0 } }
        }
      }
    },
    plugins: [frame, panelTitle]
  });
});

// legend: 4 rows, filled column by column
const legendColX = [55, 140, 226, 318, 409, 501, 593, 685, 777, 868, 960, 1052, 1144];
const legendRowY = [552, 567, 582, 597];
modelNames.forEach((name, k) => {
  const x = legendColX[Math.floor(k / 4)];
  const y = legendRowY[k % 4];
  const sw = document.createElement('canvas');
  sw.width = 20; sw.height = 8;
  sw.style.left = (x - 28) + 'px';
  sw.style.top = (y - 4) + 'px';
  const c = sw.getContext('2d');
  c.strokeStyle = lineColors[k];
  c.lineWidth = 1.5;
  c.setLineDash(lineDashes[k]);
  c.beginPath(); c.moveTo(0, 4); c.lineTo(20, 4); c.stroke();
  page.appendChild(sw);
  const t = document.createElement('div');
  t.className = 'leg-text';
  t.style.left = x + 'px';
  t.style.top = (y - 6) + 'px';
  t.textContent = name;
  page.appendChild(t);
});
</script>
</body>
</html>
